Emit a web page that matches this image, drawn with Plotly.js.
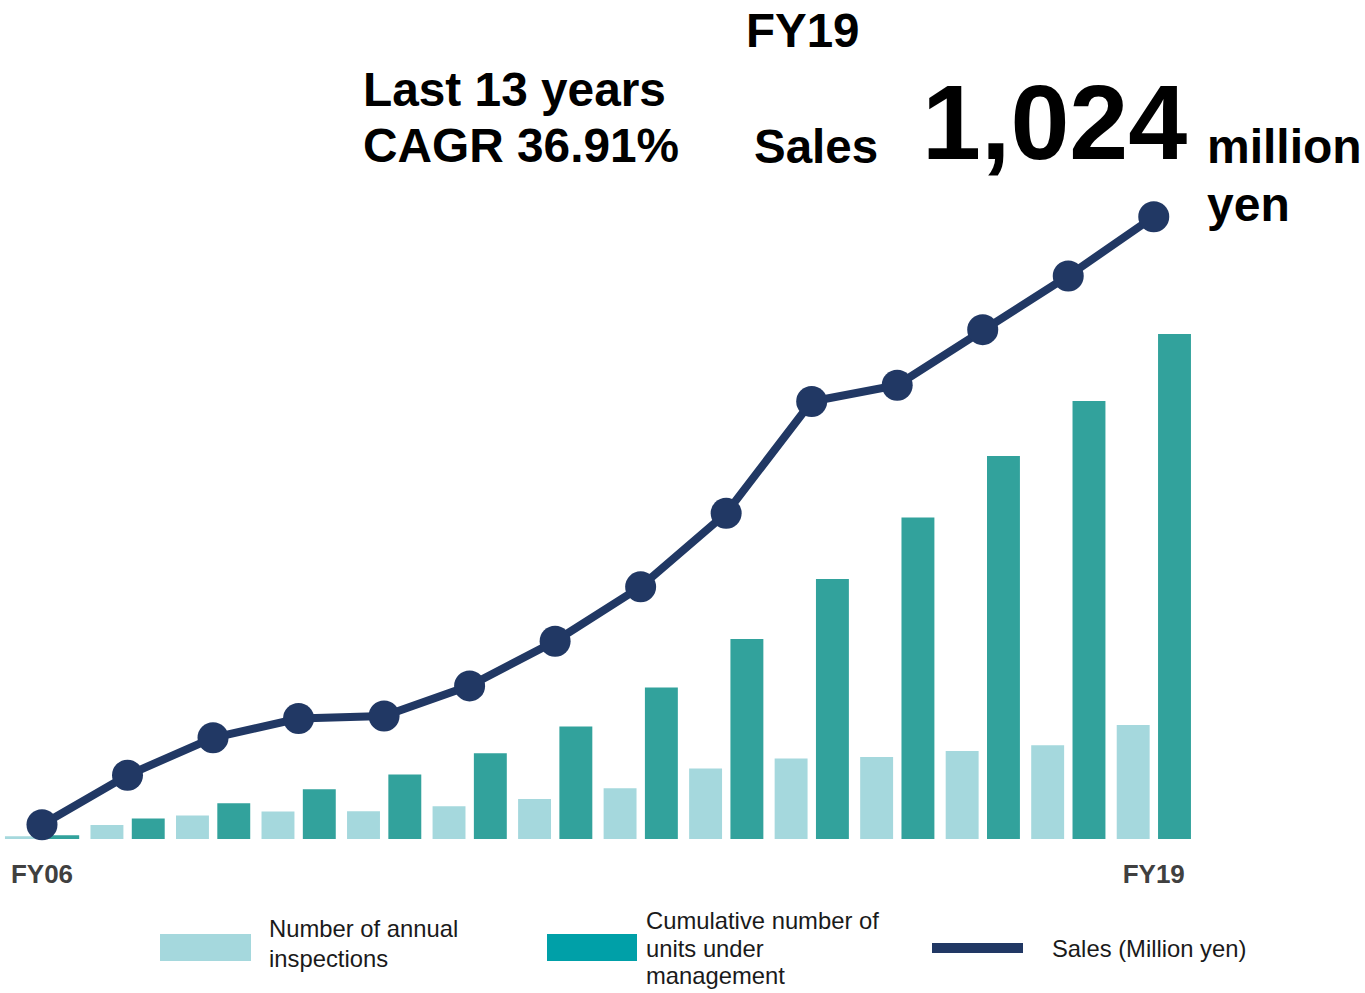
<!DOCTYPE html>
<html>
<head>
<meta charset="utf-8">
<script src="https://cdn.plot.ly/plotly-3.0.1.min.js"></script>
<style>
html,body{margin:0;padding:0;background:#fff;}
#chart{width:1365px;height:993px;}
</style>
</head>
<body>
<div id="chart"></div>
<script>
// ---- data ----
const years = ['FY06','FY07','FY08','FY09','FY10','FY11','FY12','FY13','FY14','FY15','FY16','FY17','FY18','FY19'];
const annualInspections = [27, 140, 234, 274, 277, 327, 400, 507, 705, 804, 820, 880, 937, 1140];
const cumulativeUnits = [37, 204, 357, 497, 644, 857, 1124, 1514, 2000, 2600, 3214, 3830, 4380, 5050];
const salesMillionYen = [17, 99, 161, 193, 197, 247, 321, 411, 533, 718, 745, 837, 926, 1024];
const tickLabels = ['FY06', 'FY19'];
const seriesNames = ['Number of annual<br>inspections', 'Cumulative number of<br>units under<br>management', 'Sales (Million yen)'];
const headline = {fy: 'FY19', cagr1: 'Last 13 years', cagr2: 'CAGR 36.91%', sales: 'Sales', value: '1,024', unit1: 'million', unit2: 'yen'};

// ---- styles ----
const W = 1365, H = 993, B = 154;
const PH = H - B;
const cLight = '#A5D8DD', cTeal = '#32A29C', cTealLeg = '#00A0A8', cNavy = '#213864';
const FONT = 'Liberation Sans, Arial, sans-serif';
const px = x => x / W;
const py = y => (PH - y) / PH;

const traces = [
  {type:'bar', x: years, y: annualInspections, name: seriesNames[0], marker:{color:cLight}, offset:-0.433, width:0.385, yaxis:'y', hoverinfo:'x+y'},
  {type:'bar', x: years, y: cumulativeUnits, name: seriesNames[1], marker:{color:cTeal}, offset:0.05, width:0.385, yaxis:'y', hoverinfo:'x+y'},
  {type:'scatter', mode:'lines+markers', x: years, y: salesMillionYen, name: seriesNames[2], yaxis:'y2',
   line:{color:cNavy, width:8}, marker:{color:cNavy, size:31}, cliponaxis:false}
];

const big = (text, x, y, size, anchor) => ({text, x:px(x), y:py(y), xref:'paper', yref:'paper', showarrow:false,
  xanchor:anchor||'left', yanchor:'middle', font:{family:FONT, size:size, color:'#000', weight:'bold'}});
const legLines = (name, x, yFirst, step) => name.split('<br>').map((t, i) => ({text:t, x:px(x), y:py(yFirst + i*step), xref:'paper', yref:'paper',
  showarrow:false, xanchor:'left', yanchor:'middle', align:'left', borderpad:0, font:{family:FONT, size:23.8, color:'#1a1a1a'}}));

const annotations = [
  big(headline.fy, 803, 31, 47.5, 'center'),
  big(headline.cagr1, 361, 89, 47.8),
  big(headline.cagr2, 361, 146, 47.8),
  big(headline.sales, 752, 147, 47.5),
  big(headline.value, 920, 122, 106),
  big(headline.unit1, 1205, 147, 48),
  big(headline.unit2, 1205, 204, 48),
  ...legLines(seriesNames[0], 268, 929, 29),
  ...legLines(seriesNames[1], 645, 921, 27),
  ...legLines(seriesNames[2], 1051, 948, 29)
];

const shapes = [
  {type:'rect', xref:'paper', yref:'paper', x0:px(160), x1:px(251), y0:py(934), y1:py(961), fillcolor:cLight, line:{width:0}},
  {type:'rect', xref:'paper', yref:'paper', x0:px(547), x1:px(637), y0:py(934), y1:py(961), fillcolor:cTealLeg, line:{width:0}},
  {type:'rect', xref:'paper', yref:'paper', x0:px(932), x1:px(1023), y0:py(943), y1:py(953), fillcolor:cNavy, line:{width:0}}
];

const layout = {
  width: W, height: H,
  margin: {l:0, r:0, t:0, b:B, pad:0},
  paper_bgcolor:'#fff', plot_bgcolor:'#fff',
  showlegend:false,
  barmode:'overlay',
  xaxis: {type:'category', categoryarray: years, range:[-0.491, 15.47], tickmode:'array', tickvals: tickLabels, ticktext: tickLabels,
    showgrid:false, zeroline:false, showline:false, ticks:'outside', ticklen:12, tickcolor:'rgba(0,0,0,0)',
    tickfont:{family:FONT, size:26, color:'#404040', weight:'bold'}},
  yaxis: {range:[0, 8390], visible:false, showgrid:false, zeroline:false, fixedrange:true},
  yaxis2: {range:[-6.6, 1383], overlaying:'y', visible:false, showgrid:false, zeroline:false},
  annotations, shapes
};

Plotly.newPlot('chart', traces, layout, {displayModeBar:false, staticPlot:true});
</script>
</body>
</html>
